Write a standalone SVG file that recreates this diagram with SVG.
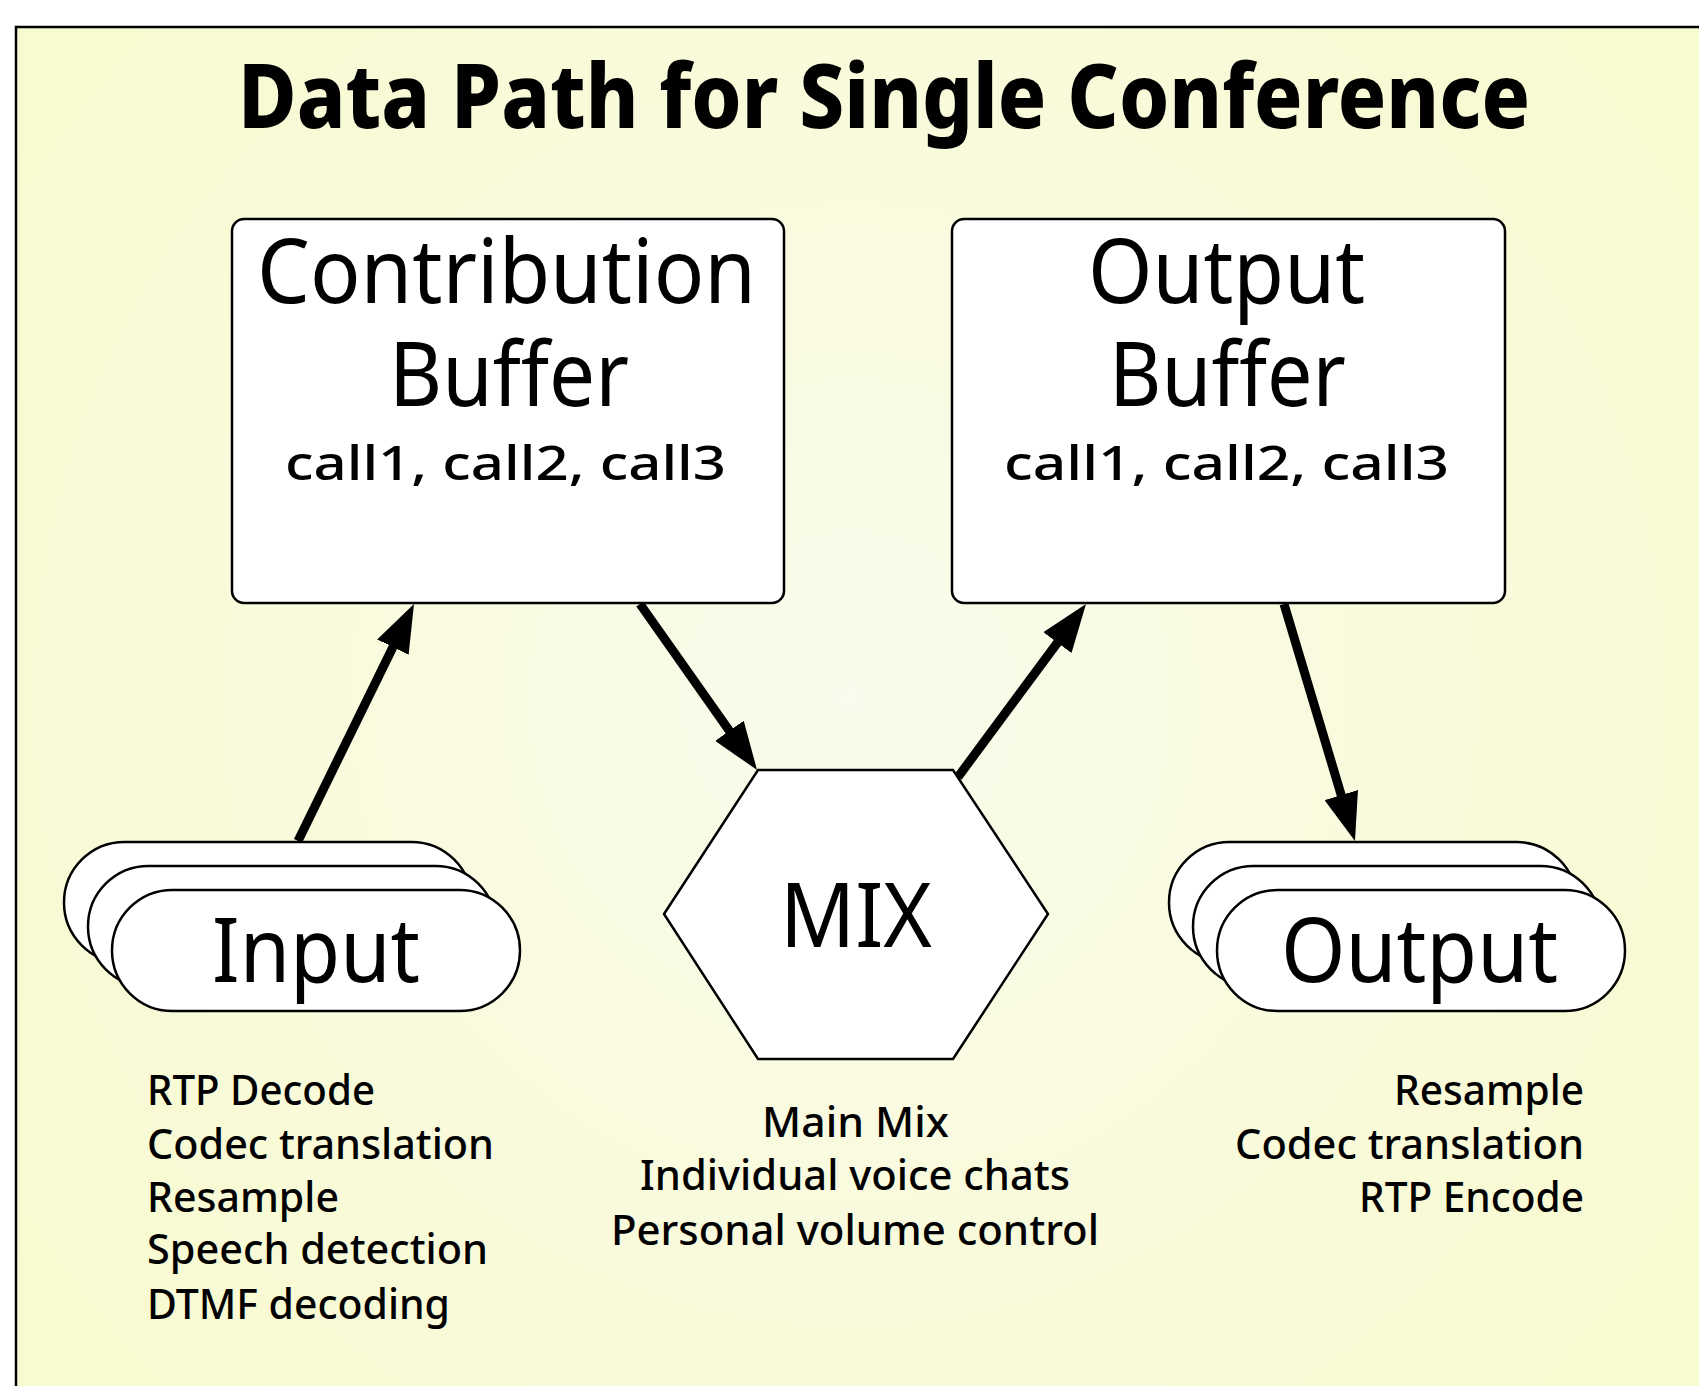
<svg xmlns="http://www.w3.org/2000/svg" width="1699" height="1386" viewBox="0 0 1699 1386">
  <defs>
    <radialGradient id="bg" cx="850" cy="700" r="1000" gradientUnits="userSpaceOnUse">
      <stop offset="0" stop-color="#fafbec"/>
      <stop offset="1" stop-color="#f8fad0"/>
    </radialGradient>
    <marker id="arrow" markerUnits="userSpaceOnUse" viewBox="0 0 48 35" markerWidth="48" markerHeight="35" refX="8" refY="17.5" orient="auto">
      <path d="M0,0 L48,17.5 L0,35 z" fill="#000"/>
    </marker>
  </defs>
  <style>
    text { font-family: "Noto Sans", "Open Sans", "DejaVu Sans", sans-serif; fill: #000; }
    .title { font-size: 90px; font-weight: 800; }
    .big { font-size: 90px; }
    .mid { font-size: 48px; font-weight: 500; }
    .small { font-size: 42px; font-weight: 500; }
    .box { fill: #fff; stroke: #000; stroke-width: 2.5; }
    .conn { stroke: #000; stroke-width: 9; fill: none; marker-end: url(#arrow); }
  </style>
  <rect x="0" y="0" width="1699" height="1386" fill="#fff"/>
  <rect x="16" y="27" width="1700" height="1400" fill="url(#bg)" stroke="#000" stroke-width="2.5"/>

  <g id="title">
    <text class="title" x="238" y="128" textLength="1292" lengthAdjust="spacingAndGlyphs">Data Path for Single Conference</text>
  </g>

  <g id="connectors">
    <path class="conn" d="M298,841 L396.4,639.9"/>
    <path class="conn" d="M640,604 L734,737.3"/>
    <path class="conn" d="M958,777 L1062.2,636.2"/>
    <path class="conn" d="M1284,604 L1343.5,802.7"/>
  </g>

  <g id="contribution-buffer">
    <rect class="box" x="232" y="219" width="552" height="384" rx="12"/>
    <text class="big" x="257" y="303" textLength="499" lengthAdjust="spacingAndGlyphs">Contribution</text>
    <text class="big" x="389" y="406" textLength="240" lengthAdjust="spacingAndGlyphs">Buffer</text>
    <text class="mid" x="285" y="480" textLength="441" lengthAdjust="spacingAndGlyphs">call1, call2, call3</text>
  </g>

  <g id="output-buffer">
    <rect class="box" x="952" y="219" width="553" height="384" rx="12"/>
    <text class="big" x="1088" y="303" textLength="277" lengthAdjust="spacingAndGlyphs">Output</text>
    <text class="big" x="1109" y="406" textLength="237" lengthAdjust="spacingAndGlyphs">Buffer</text>
    <text class="mid" x="1004" y="480" textLength="445" lengthAdjust="spacingAndGlyphs">call1, call2, call3</text>
  </g>

  <g id="mix">
    <polygon class="box" stroke-width="2" points="664,914 758,770 953,770 1048,914 953,1059 758,1059"/>
    <text class="big" x="780" y="947" textLength="152" lengthAdjust="spacingAndGlyphs">MIX</text>
    <text class="small" x="762" y="1137" textLength="187" lengthAdjust="spacingAndGlyphs">Main Mix</text>
    <text class="small" x="640" y="1190" textLength="430" lengthAdjust="spacingAndGlyphs">Individual voice chats</text>
    <text class="small" x="611" y="1245" textLength="488" lengthAdjust="spacingAndGlyphs">Personal volume control</text>
  </g>

  <g id="input">
    <rect class="box" x="64" y="842" width="408" height="121" rx="60.5"/>
    <rect class="box" x="88" y="866" width="408" height="121" rx="60.5"/>
    <rect class="box" x="112" y="890" width="408" height="121" rx="60.5"/>
    <text class="big" x="212" y="982" textLength="208" lengthAdjust="spacingAndGlyphs">Input</text>
    <text class="small" x="147" y="1105" textLength="228" lengthAdjust="spacingAndGlyphs">RTP Decode</text>
    <text class="small" x="147" y="1159" textLength="347" lengthAdjust="spacingAndGlyphs">Codec translation</text>
    <text class="small" x="147" y="1212" textLength="192" lengthAdjust="spacingAndGlyphs">Resample</text>
    <text class="small" x="147" y="1264" textLength="341" lengthAdjust="spacingAndGlyphs">Speech detection</text>
    <text class="small" x="147" y="1319" textLength="303" lengthAdjust="spacingAndGlyphs">DTMF decoding</text>
  </g>

  <g id="output">
    <rect class="box" x="1169" y="842" width="408" height="121" rx="60.5"/>
    <rect class="box" x="1193" y="866" width="408" height="121" rx="60.5"/>
    <rect class="box" x="1217" y="890" width="408" height="121" rx="60.5"/>
    <text class="big" x="1281" y="982" textLength="277" lengthAdjust="spacingAndGlyphs">Output</text>
    <text class="small" x="1394" y="1105" textLength="190" lengthAdjust="spacingAndGlyphs">Resample</text>
    <text class="small" x="1235" y="1159" textLength="349" lengthAdjust="spacingAndGlyphs">Codec translation</text>
    <text class="small" x="1359" y="1212" textLength="225" lengthAdjust="spacingAndGlyphs">RTP Encode</text>
  </g>
</svg>
